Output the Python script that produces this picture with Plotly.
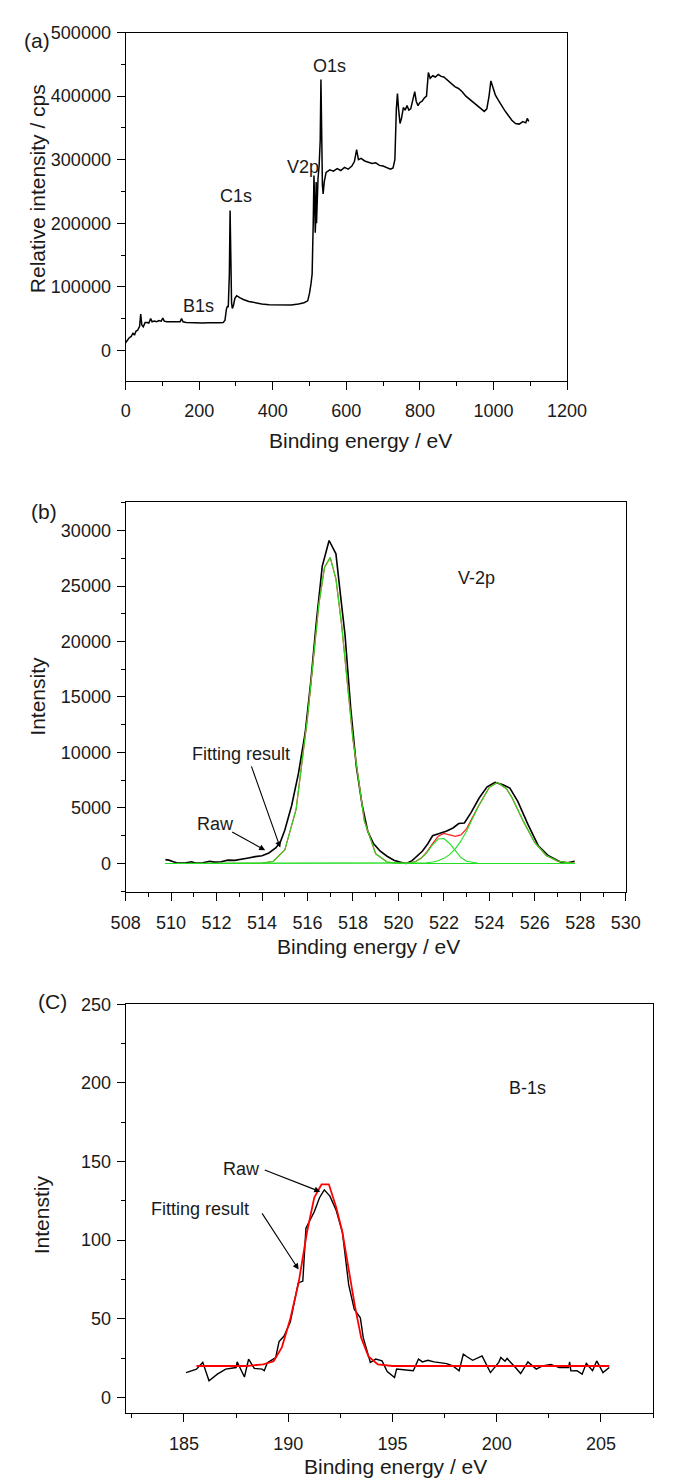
import plotly.graph_objects as go

W, H = 673, 1480

# ---------------- data ----------------
# (a) survey spectrum
survey_energy = [0, 5, 10, 15, 20, 24, 28, 33, 38, 41, 44, 48, 53, 58, 63, 68, 72, 78, 84, 90, 97, 101, 105,
                 112, 120, 130, 140, 148, 152, 156, 165, 180, 195, 210, 225, 240, 255, 265, 270, 274, 277, 279,
                 282, 284, 286, 288, 290, 293, 297, 302, 310, 320, 335, 350, 370, 390, 410, 430, 450, 470, 485,
                 495, 500, 504, 507, 510, 512, 514, 515.5, 517, 518, 519, 521, 523, 526, 529, 531, 533, 535, 537,
                 540, 545, 555, 565, 575, 585, 595, 605, 615, 622, 628, 633, 640, 650, 660, 670, 680, 690, 700,
                 710, 720, 727, 732, 736, 739, 742, 746, 750, 755, 760, 765, 770, 775, 780, 786, 790, 795, 800,
                 806, 812, 818, 823, 828, 835, 842, 850, 858, 865, 875, 885, 895, 905, 915, 925, 935, 945, 955,
                 965, 975, 982, 988, 993, 998, 1005, 1012, 1020, 1030, 1040, 1050, 1060, 1070, 1080, 1088, 1092,
                 1096]
survey_counts = [12000, 17000, 20000, 22000, 27000, 24000, 30000, 32000, 38000, 57000, 40000, 37000, 44000, 44000,
                 43000, 50000, 45000, 46000, 45000, 47000, 46000, 51000, 46000, 45000, 45000, 45000, 44000, 45000,
                 50000, 45000, 44000, 43500, 44000, 43000, 43500, 43000, 43500, 44000, 47000, 65000, 70000, 68000,
                 120000, 220000, 140000, 75000, 66000, 70000, 82000, 86000, 83000, 80000, 77000, 75000, 73000,
                 72000, 71500, 72000, 71500, 73000, 75000, 78000, 90000, 105000, 120000, 200000, 275000, 230000,
                 185000, 210000, 265000, 200000, 260000, 270000, 290000, 330000, 426000, 300000, 260000, 246000,
                 265000, 280000, 284000, 282000, 286000, 283000, 288000, 285000, 290000, 297000, 316000, 300000,
                 302000, 298000, 296000, 294000, 295000, 291000, 290000, 288000, 285000, 287000, 300000, 380000,
                 404000, 380000, 357000, 365000, 382000, 378000, 385000, 378000, 380000, 392000, 407000, 392000,
                 385000, 390000, 392000, 397000, 400000, 437000, 428000, 432000, 430000, 434000, 431000, 430000,
                 425000, 420000, 415000, 412000, 407000, 400000, 395000, 390000, 385000, 380000, 376000, 380000,
                 400000, 424000, 415000, 402000, 395000, 387000, 378000, 370000, 362000, 357000, 356000, 360000,
                 358000, 365000, 360000]
survey_labels = ["O1s", "V2p", "C1s", "B1s"]

# (b) V-2p raw
v_raw_energy = [509.75, 509.9, 510.1, 510.3, 510.6, 510.9, 511.1, 511.4, 511.7, 511.9, 512.2, 512.5, 512.8, 513.1,
                513.4, 513.7, 514.0, 514.3, 514.6, 514.8, 515.0, 515.3, 515.6, 515.9, 516.15, 516.4, 516.65,
                516.95, 517.25, 517.45, 517.65, 517.9, 518.15, 518.4, 518.65, 518.9, 519.2, 519.5, 519.8, 520.1,
                520.35, 520.6, 520.85, 521.05, 521.3, 521.5, 521.8, 522.1, 522.4, 522.65, 522.9, 523.2, 523.55,
                523.9, 524.25, 524.6, 524.9, 525.25, 525.7, 526.15, 526.6, 527.1, 527.4, 527.75]
v_raw_int = [350, 300, 150, 30, 50, 150, 30, 60, 200, 120, 150, 300, 280, 420, 500, 620, 700, 950, 1400, 1900,
             3000, 5200, 8100, 11800, 16500, 22000, 26800, 29100, 27900, 24200, 20600, 14000, 8700, 5300, 2900,
             1800, 1100, 650, 300, 100, 0, 250, 700, 1100, 1800, 2500, 2700, 2900, 3200, 3600, 3650, 4600, 5900,
             6900, 7300, 7100, 6800, 5600, 3500, 1600, 700, 150, 50, 200]

# (b) V-2p fit (common energy grid)
v_fit_energy = [509.75, 510.5, 511.5, 512.5, 513.5, 514.0, 514.5, 515.0, 515.5, 516.0, 516.5, 516.75, 517.0,
                517.25, 517.5, 518.0, 518.5, 519.0, 519.5, 520.0, 520.5, 520.75, 521.0, 521.25, 521.5, 521.75,
                522.0, 522.25, 522.5, 522.75, 523.0, 523.5, 524.0, 524.35, 524.75, 525.0, 525.5, 526.0, 526.5,
                527.0, 527.5, 527.75]
v_peak1 = [0, 0, 0, 0, 0, 20, 200, 1210, 4900, 13140, 23370, 26700, 27560, 25640, 21520, 11150, 3840, 870, 130,
           10, 0, 0, 0, 0, 0, 0, 0, 0, 0, 0, 0, 0, 0, 0, 0, 0, 0, 0, 0, 0, 0, 0]
v_peak2 = [0, 0, 0, 0, 0, 0, 0, 0, 0, 0, 0, 0, 0, 0, 0, 0, 0, 0, 0, 0, 46, 163, 455, 985, 1670, 2200, 2250, 1800,
           1120, 540, 205, 15, 0, 0, 0, 0, 0, 0, 0, 0, 0, 0]
v_peak3 = [0, 0, 0, 0, 0, 0, 0, 0, 0, 0, 0, 0, 0, 0, 0, 0, 0, 0, 0, 0, 0, 10, 30, 65, 126, 245, 460, 800, 1320,
           2030, 2935, 5085, 6866, 7300, 6740, 5910, 3770, 1870, 722, 218, 51, 22]
v_envelope = [0, 0, 0, 0, 0, 20, 200, 1210, 4900, 13140, 23370, 26700, 27560, 25640, 21520, 11150, 3840, 870,
              130, 10, 46, 173, 485, 1050, 1796, 2445, 2710, 2600, 2440, 2570, 3140, 5100, 6866, 7300, 6740, 5910,
              3770, 1870, 722, 218, 51, 22]

# (c) B-1s raw
b_raw_energy = [185.1, 185.6, 185.9, 186.2, 186.6, 187.0, 187.5, 187.55, 187.9, 188.1, 188.37, 188.75, 188.85,
                189.0, 189.4, 189.56, 189.8, 190.1, 190.48, 190.7, 190.85, 191.25, 191.5, 191.73, 192.0, 192.3,
                192.6, 192.9, 193.17, 193.46, 193.6, 193.94, 194.2, 194.5, 194.75, 195.1, 195.2, 195.8, 196.0,
                196.25, 196.44, 196.7, 197.0, 197.6, 197.9, 198.2, 198.4, 198.56, 198.85, 199.3, 199.7, 200.1,
                200.2, 200.4, 200.5, 200.9, 201.15, 201.5, 201.9, 202.2, 202.6, 203.0, 203.45, 203.5, 203.56,
                203.85, 204.1, 204.3, 204.6, 204.8, 205.1, 205.4]
b_raw_int = [15.8, 18, 22.3, 10.6, 14.8, 18, 19, 22.6, 13, 24.3, 18.5, 18, 17, 22, 25.4, 35.5, 39, 48, 72.8, 74,
             107.6, 118, 127, 132, 128, 119, 105, 71.7, 55.9, 50.6, 38, 22.2, 24.4, 23.2, 16.5, 12.7, 18, 17, 17,
             24.4, 22.6, 23.6, 22.6, 21.5, 20, 17, 27.5, 26, 23.6, 26.4, 15.8, 22.3, 25.4, 23, 24.8, 19, 15.2,
             22.6, 18, 20, 21, 19, 19, 22.6, 16.9, 17, 14.8, 21.7, 17, 23.2, 15.8, 19]

# (c) B-1s fit
b_fit_energy = [185.6, 188.0, 188.8, 189.3, 189.7, 190.1, 190.5, 190.9, 191.25, 191.6, 191.95, 192.3, 192.6,
                192.9, 193.2, 193.5, 193.85, 194.3, 195.0, 205.4]
b_fit_int = [20, 20, 21, 23, 32, 50, 73, 105, 127, 135.5, 135.5, 121, 105, 80, 58, 38, 26, 21, 20, 20]

# ---------------- layout helpers (pixel geometry) ----------------
def px(x):
    return x / W


def py(y):
    return 1 - y / H


FONT = "Liberation Sans, Arial, sans-serif"
INK = "#1a1a1a"

fig = go.Figure()

# panel (a)
fig.add_trace(go.Scatter(x=survey_energy, y=survey_counts, mode="lines",
                         line=dict(color="black", width=1.5), xaxis="x", yaxis="y", showlegend=False))
# panel (b)
fig.add_trace(go.Scatter(x=v_raw_energy, y=v_raw_int, mode="lines",
                         line=dict(color="black", width=1.6), xaxis="x2", yaxis="y2", showlegend=False))
fig.add_trace(go.Scatter(x=v_fit_energy, y=v_envelope, mode="lines",
                         line=dict(color="#ff2020", width=1.2), xaxis="x2", yaxis="y2", showlegend=False))
for comp in (v_peak1, v_peak2, v_peak3):
    fig.add_trace(go.Scatter(x=v_fit_energy, y=comp, mode="lines",
                             line=dict(color="#22e022", width=1.1), xaxis="x2", yaxis="y2", showlegend=False))
# panel (c)
fig.add_trace(go.Scatter(x=b_raw_energy, y=b_raw_int, mode="lines",
                         line=dict(color="black", width=1.4), xaxis="x3", yaxis="y3", showlegend=False))
fig.add_trace(go.Scatter(x=b_fit_energy, y=b_fit_int, mode="lines",
                         line=dict(color="#ff0000", width=1.8), xaxis="x3", yaxis="y3", showlegend=False))


def axis(domain, rng, dtick, minor_dtick, anchor, tick0=None):
    d = dict(domain=domain, range=rng, anchor=anchor, showgrid=False, zeroline=False,
             showline=True, linecolor="black", linewidth=1.2, mirror=True,
             ticks="outside", ticklen=8, tickwidth=1.2, tickcolor="black",
             dtick=dtick, tickformat="d",
             tickfont=dict(family=FONT, size=18, color=INK),
             minor=dict(ticks="outside", ticklen=4, tickwidth=1.2, tickcolor="black", dtick=minor_dtick,
                        showgrid=False))
    if tick0 is not None:
        d["tick0"] = tick0
    return d


# pixel boxes of the three plot areas
A = dict(l=116.7, r=582.3, t=22.7, b=373.3)
B = dict(l=116.7, r=644.3, t=495.0, b=888.0)
C = dict(l=116.7, r=673.0, t=1001.0, b=1412.7)

layout = dict(
    width=W, height=H, margin=dict(l=0, r=0, t=0, b=0),
    paper_bgcolor="white", plot_bgcolor="white",
    xaxis=axis([px(A["l"]), px(A["r"])], [0, 1200], 200, 100, "y"),
    yaxis=axis([py(A["b"]), py(A["t"])], [-47800, 500000], 100000, 50000, "x", tick0=0),
    xaxis2=axis([px(B["l"]), px(B["r"])], [508, 530], 2, 1, "y2"),
    yaxis2=axis([py(B["b"]), py(B["t"])], [-2570, 32600], 5000, 2500, "x2", tick0=0),
    xaxis3=axis([px(C["l"]), px(C["r"])], [182.2, 207.5], 5, 2.5, "y3", tick0=185),
    yaxis3=axis([py(C["b"]), py(C["t"])], [-10, 250], 50, 25, "x3", tick0=0),
)
for k in ("xaxis", "xaxis2", "xaxis3"):
    layout[k]["ticklabelstandoff"] = 6
for k in ("yaxis", "yaxis2", "yaxis3"):
    layout[k]["ticklabelstandoff"] = 2
fig.update_layout(**layout)

ann = []


def text(xp, yp, s, size=18, angle=0):
    ann.append(dict(x=px(xp), y=py(yp), xref="paper", yref="paper", text=s, showarrow=False,
                    xanchor="center", yanchor="middle", textangle=angle,
                    font=dict(family=FONT, size=size, color=INK)))


# panel letters
text(23.5, 31, "(a)", 21)
text(31, 505, "(b)", 21)
text(40, 998, "(C)", 21)
# axis titles
text(364, 433, "Binding energy / eV", 21)
text(373, 943, "Binding energy / eV", 21)
text(401, 1466, "Binding energy / eV", 21)
text(23.6, 180, "Relative intensity / cps", 21, -90)
text(23.6, 691, "Intensity", 21, -90)
text(27.9, 1213, "Intenstiy", 21, -90)
# peak labels panel (a)
text(331.5, 56, survey_labels[0], 18)
text(304, 158, survey_labels[1], 18)
text(233, 187.5, survey_labels[2], 18)
text(194, 298.5, survey_labels[3], 18)
# panel (b)
text(487, 572, "V-2p", 18)
text(238, 749, "Fitting result", 18)
text(211, 820, "Raw", 18)
# panel (c)
text(541, 1085, "B-1s", 18)
text(239, 1167, "Raw", 18)
text(195, 1207, "Fitting result", 18)


def arrow(xr, yr, x_tail, y_tail, x_head, y_head):
    ann.append(dict(x=x_head, y=y_head, ax=x_tail, ay=y_tail, xref=xr, yref=yr, axref=xr, ayref=yr,
                    text="", showarrow=True, arrowhead=2, arrowsize=1.1, arrowwidth=1.1, arrowcolor="black"))


arrow("x2", "y2", 513.51, 8884, 514.80, 1431)
arrow("x2", "y2", 512.62, 2917, 514.14, 1190)
arrow("x3", "y3", 188.8, 145, 191.54, 130.8)
arrow("x3", "y3", 188.7, 118, 190.5, 81.3)

fig.update_layout(annotations=ann)
fig.write_html("out.html", config={"displayModeBar": False},
               post_script="document.body.style.margin='0';document.body.style.overflow='hidden';")
